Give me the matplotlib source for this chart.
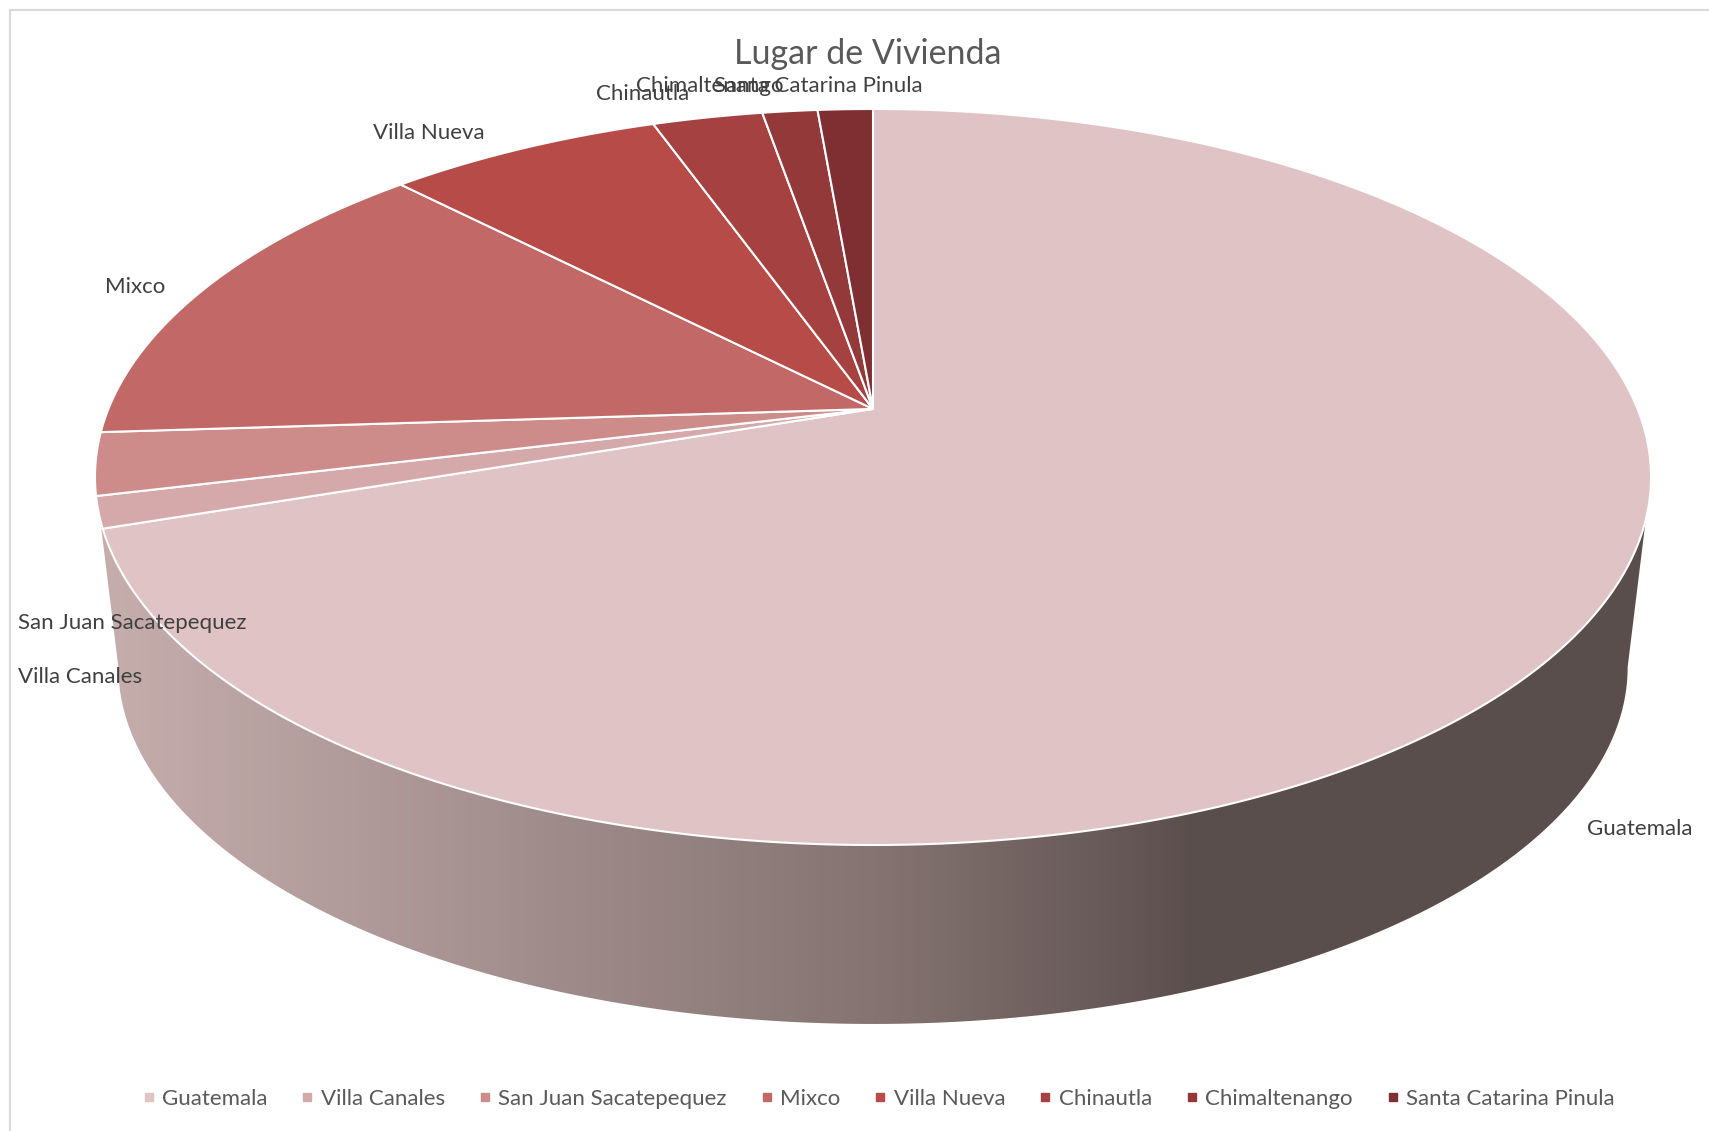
import numpy as np
import matplotlib
matplotlib.use("Agg")
import matplotlib.pyplot as plt
from matplotlib.patches import Polygon
from matplotlib.lines import Line2D
from matplotlib.colors import LinearSegmentedColormap

# Datos
lugares = ["Guatemala", "Villa Canales", "San Juan Sacatepequez", "Mixco",
           "Villa Nueva", "Chinautla", "Chimaltenango", "Santa Catarina Pinula"]
personas = [51, 1, 2, 10, 5, 2, 1, 1]
colores = ["#e0c3c4", "#d5a9a9", "#cd8b8a", "#c26866",
           "#b64b47", "#a54241", "#93393a", "#7f2f31"]

plt.rcParams["font.family"] = ["Lato", "DejaVu Sans"]

W, H = 1709, 1131
fig = plt.figure(figsize=(W / 100, H / 100), dpi=100)
ax = fig.add_axes([0, 0, 1, 1])
ax.set_xlim(0, W)
ax.set_ylim(H, 0)
ax.axis("off")

# Geometria del pastel (elipse en pixeles, con perspectiva)
cx, cy, a, b = 873, 477, 778, 368
t = np.arctanh(0.185)
ch, sh = np.cosh(t), np.sinh(t)
prof = 190      # grosor del pastel
esc_base = 0.97


def proyectar(u, v):
    """Circulo unidad -> elipse en pantalla con perspectiva."""
    d = v * sh + ch
    up = u / d
    vp = (v * ch + sh) / d
    return cx + a * up, cy - b * vp


# Lateral con degradado (mitad frontal)
phi = np.linspace(np.pi, 2 * np.pi, 300)
xs_top = cx + a * np.cos(phi)
ys_top = cy - b * np.sin(phi)
xs_bot = cx + esc_base * a * np.cos(phi[::-1])
ys_bot = cy + prof - esc_base * b * np.sin(phi[::-1])
lado = Polygon(np.column_stack([np.r_[xs_top, xs_bot], np.r_[ys_top, ys_bot]]),
               closed=True, facecolor="none", edgecolor="none")
ax.add_patch(lado)
x0, x1 = 100, 1660
paradas = [(120, "#c4acab"), (545, "#a08d8b"), (872, "#857472"),
           (1090, "#6a5c5a"), (1200, "#5a4e4b"), (1660, "#594e4b")]
cmap = LinearSegmentedColormap.from_list(
    "lado", [(0, "#c4acab")] + [((x - x0) / (x1 - x0), c) for x, c in paradas])
grad = np.linspace(0, 1, 600)[None, :]
img = ax.imshow(grad, cmap=cmap, extent=[x0, x1, 1040, 460],
                aspect="auto", zorder=1)
img.set_clip_path(lado)

# Cara superior: porciones en sentido horario desde arriba
total = sum(personas)
ang = np.r_[0, np.cumsum(personas)] / total * 2 * np.pi
for i, (n, col) in enumerate(zip(personas, colores)):
    th = np.linspace(ang[i], ang[i + 1], max(int(n * 20), 10))
    u = np.r_[0, np.sin(th)]
    v = np.r_[0, np.cos(th)]
    px, py = proyectar(u, v)
    ax.add_patch(Polygon(np.column_stack([px, py]), closed=True,
                         facecolor=col, edgecolor="white", linewidth=1.5,
                         zorder=2))

# Etiquetas de datos (posiciones como en Excel)
pos_etiquetas = {
    "Guatemala": (1587, 829),
    "Villa Canales": (18, 677),
    "San Juan Sacatepequez": (18, 623),
    "Mixco": (105, 287),
    "Villa Nueva": (373, 133),
    "Chinautla": (596, 94),
    "Chimaltenango": (636, 86),
    "Santa Catarina Pinula": (714, 86),
}
for nombre in lugares:
    x, y = pos_etiquetas[nombre]
    ax.text(x, y, nombre, fontsize=16, color="#404040", ha="left",
            va="center", zorder=3)

ax.text(868, 54, "Lugar de Vivienda", fontsize=24.5, color="#595959",
        ha="center", va="center")

# Marco del grafico
ax.plot([10, 1708], [10, 10], color="#d9d9d9", lw=1.5)
ax.plot([10, 10], [10, H], color="#d9d9d9", lw=1.5)

# Leyenda
handles = [Line2D([], [], marker="s", linestyle="", color=c, markersize=5.5)
           for c in colores]
fig.legend(handles, lugares, loc="center", bbox_to_anchor=(876 / W, 1 - 1099 / H),
           ncol=8, frameon=False, fontsize=16, labelcolor="#595959",
           handletextpad=0.1, columnspacing=1.3, handlelength=1)

fig.savefig("out.png", dpi=100)
